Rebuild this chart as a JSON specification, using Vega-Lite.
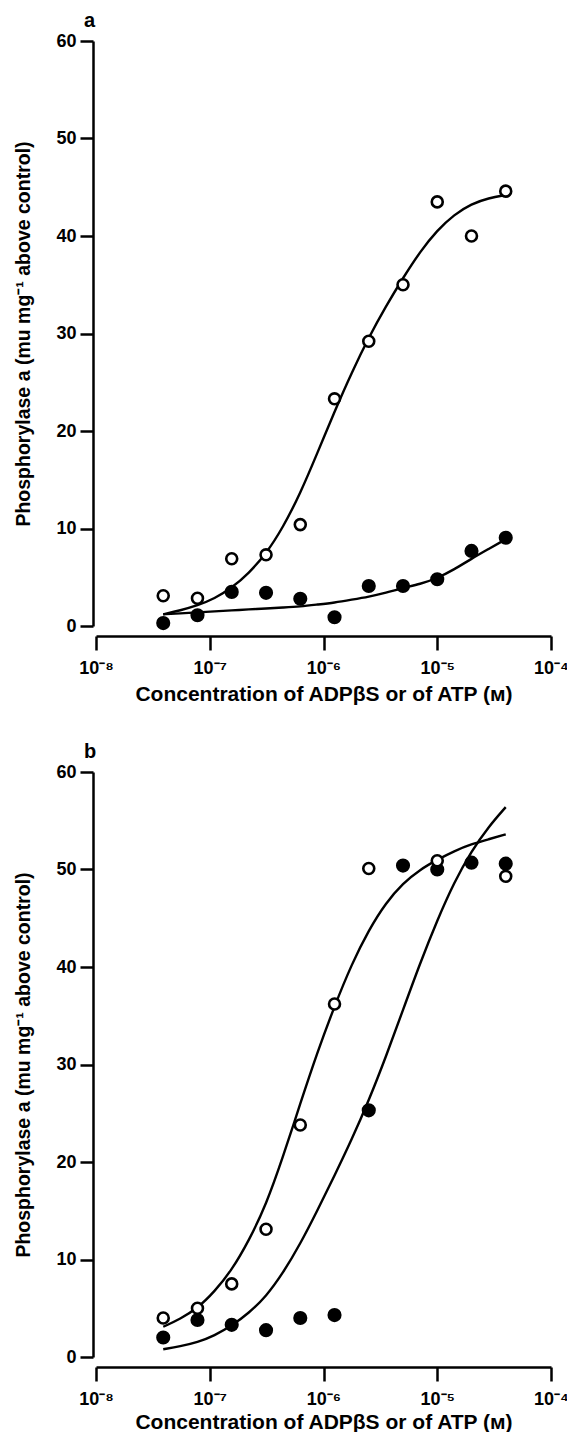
{
  "$schema": "https://vega.github.io/schema/vega-lite/v6.json",
  "background": "white",
  "padding": {"left": 13, "top": 11, "right": 0, "bottom": 0},
  "spacing": 38,
  "config": {
    "view": {"stroke": null},
    "font": "Liberation Sans",
    "axis": {
      "grid": false,
      "domainColor": "black",
      "domainWidth": 2.5,
      "tickColor": "black",
      "tickWidth": 2.5,
      "labelColor": "black",
      "titleColor": "black",
      "labelFont": "Liberation Sans",
      "titleFont": "Liberation Sans",
      "labelFontSize": 18,
      "labelFontWeight": "bold",
      "titleFontSize": 20,
      "titleFontWeight": "bold"
    },
    "title": {"font": "Liberation Sans", "fontSize": 20, "fontWeight": "bold", "color": "black", "anchor": "start", "frame": "group"}
  },
  "datasets": {
    "points": [
      {"panel": "a", "type": "open", "conc": 3.9e-8, "val": 3.1},
      {"panel": "a", "type": "open", "conc": 7.8e-8, "val": 2.85},
      {"panel": "a", "type": "open", "conc": 1.56e-7, "val": 6.9},
      {"panel": "a", "type": "open", "conc": 3.125e-7, "val": 7.3},
      {"panel": "a", "type": "open", "conc": 6.25e-7, "val": 10.4},
      {"panel": "a", "type": "open", "conc": 1.25e-6, "val": 23.3},
      {"panel": "a", "type": "open", "conc": 2.5e-6, "val": 29.2},
      {"panel": "a", "type": "open", "conc": 5e-6, "val": 35.0},
      {"panel": "a", "type": "open", "conc": 1e-5, "val": 43.5},
      {"panel": "a", "type": "open", "conc": 2e-5, "val": 40.0},
      {"panel": "a", "type": "open", "conc": 4e-5, "val": 44.6},
      {"panel": "a", "type": "filled", "conc": 3.9e-8, "val": 0.3},
      {"panel": "a", "type": "filled", "conc": 7.8e-8, "val": 1.1},
      {"panel": "a", "type": "filled", "conc": 1.56e-7, "val": 3.5},
      {"panel": "a", "type": "filled", "conc": 3.125e-7, "val": 3.4},
      {"panel": "a", "type": "filled", "conc": 6.25e-7, "val": 2.8},
      {"panel": "a", "type": "filled", "conc": 1.25e-6, "val": 0.9},
      {"panel": "a", "type": "filled", "conc": 2.5e-6, "val": 4.1},
      {"panel": "a", "type": "filled", "conc": 5e-6, "val": 4.1},
      {"panel": "a", "type": "filled", "conc": 1e-5, "val": 4.8},
      {"panel": "a", "type": "filled", "conc": 2e-5, "val": 7.7},
      {"panel": "a", "type": "filled", "conc": 4e-5, "val": 9.05},
      {"panel": "b", "type": "open", "conc": 3.9e-8, "val": 4.0},
      {"panel": "b", "type": "open", "conc": 7.8e-8, "val": 5.0},
      {"panel": "b", "type": "open", "conc": 1.56e-7, "val": 7.5},
      {"panel": "b", "type": "open", "conc": 3.125e-7, "val": 13.1},
      {"panel": "b", "type": "open", "conc": 6.25e-7, "val": 23.8},
      {"panel": "b", "type": "open", "conc": 1.25e-6, "val": 36.2},
      {"panel": "b", "type": "open", "conc": 2.5e-6, "val": 50.1},
      {"panel": "b", "type": "open", "conc": 1e-5, "val": 50.9},
      {"panel": "b", "type": "open", "conc": 4e-5, "val": 49.3},
      {"panel": "b", "type": "filled", "conc": 3.9e-8, "val": 2.0},
      {"panel": "b", "type": "filled", "conc": 7.8e-8, "val": 3.8},
      {"panel": "b", "type": "filled", "conc": 1.56e-7, "val": 3.3},
      {"panel": "b", "type": "filled", "conc": 3.125e-7, "val": 2.75},
      {"panel": "b", "type": "filled", "conc": 6.25e-7, "val": 4.0},
      {"panel": "b", "type": "filled", "conc": 1.25e-6, "val": 4.3},
      {"panel": "b", "type": "filled", "conc": 2.5e-6, "val": 25.3},
      {"panel": "b", "type": "filled", "conc": 5e-6, "val": 50.4},
      {"panel": "b", "type": "filled", "conc": 1e-5, "val": 50.0},
      {"panel": "b", "type": "filled", "conc": 2e-5, "val": 50.7},
      {"panel": "b", "type": "filled", "conc": 4e-5, "val": 50.6}
    ],
    "curves": [
      {"panel": "a", "series": "open", "conc": 3.9e-8, "val": 1.2},
      {"panel": "a", "series": "open", "conc": 5.5e-8, "val": 1.6},
      {"panel": "a", "series": "open", "conc": 7.8e-8, "val": 2.1},
      {"panel": "a", "series": "open", "conc": 1.1e-7, "val": 2.8},
      {"panel": "a", "series": "open", "conc": 1.56e-7, "val": 3.9},
      {"panel": "a", "series": "open", "conc": 2.2e-7, "val": 5.4},
      {"panel": "a", "series": "open", "conc": 3.125e-7, "val": 7.4},
      {"panel": "a", "series": "open", "conc": 4.4e-7, "val": 10.1},
      {"panel": "a", "series": "open", "conc": 6.25e-7, "val": 13.6},
      {"panel": "a", "series": "open", "conc": 8.8e-7, "val": 17.7},
      {"panel": "a", "series": "open", "conc": 1.25e-6, "val": 22.0},
      {"panel": "a", "series": "open", "conc": 1.77e-6, "val": 26.0},
      {"panel": "a", "series": "open", "conc": 2.5e-6, "val": 29.6},
      {"panel": "a", "series": "open", "conc": 3.54e-6, "val": 32.8},
      {"panel": "a", "series": "open", "conc": 5e-6, "val": 35.7},
      {"panel": "a", "series": "open", "conc": 7.07e-6, "val": 38.4},
      {"panel": "a", "series": "open", "conc": 1e-5, "val": 40.6},
      {"panel": "a", "series": "open", "conc": 1.41e-5, "val": 42.2},
      {"panel": "a", "series": "open", "conc": 2e-5, "val": 43.3},
      {"panel": "a", "series": "open", "conc": 2.83e-5, "val": 43.9},
      {"panel": "a", "series": "open", "conc": 4e-5, "val": 44.2},
      {"panel": "a", "series": "filled", "conc": 3.9e-8, "val": 1.2},
      {"panel": "a", "series": "filled", "conc": 5.5e-8, "val": 1.3},
      {"panel": "a", "series": "filled", "conc": 7.8e-8, "val": 1.4},
      {"panel": "a", "series": "filled", "conc": 1.1e-7, "val": 1.5},
      {"panel": "a", "series": "filled", "conc": 1.56e-7, "val": 1.6},
      {"panel": "a", "series": "filled", "conc": 2.2e-7, "val": 1.7},
      {"panel": "a", "series": "filled", "conc": 3.125e-7, "val": 1.8},
      {"panel": "a", "series": "filled", "conc": 4.4e-7, "val": 1.9},
      {"panel": "a", "series": "filled", "conc": 6.25e-7, "val": 2.0},
      {"panel": "a", "series": "filled", "conc": 8.8e-7, "val": 2.2},
      {"panel": "a", "series": "filled", "conc": 1.25e-6, "val": 2.4},
      {"panel": "a", "series": "filled", "conc": 1.77e-6, "val": 2.7},
      {"panel": "a", "series": "filled", "conc": 2.5e-6, "val": 3.0},
      {"panel": "a", "series": "filled", "conc": 3.54e-6, "val": 3.4},
      {"panel": "a", "series": "filled", "conc": 5e-6, "val": 3.9},
      {"panel": "a", "series": "filled", "conc": 7.07e-6, "val": 4.3},
      {"panel": "a", "series": "filled", "conc": 1e-5, "val": 4.9},
      {"panel": "a", "series": "filled", "conc": 1.41e-5, "val": 5.8},
      {"panel": "a", "series": "filled", "conc": 2e-5, "val": 6.9},
      {"panel": "a", "series": "filled", "conc": 2.83e-5, "val": 7.9},
      {"panel": "a", "series": "filled", "conc": 4e-5, "val": 8.9},
      {"panel": "b", "series": "open", "conc": 3.9e-8, "val": 3.1},
      {"panel": "b", "series": "open", "conc": 5.5e-8, "val": 3.9},
      {"panel": "b", "series": "open", "conc": 7.8e-8, "val": 5.0},
      {"panel": "b", "series": "open", "conc": 1.1e-7, "val": 6.7},
      {"panel": "b", "series": "open", "conc": 1.56e-7, "val": 8.9},
      {"panel": "b", "series": "open", "conc": 2.2e-7, "val": 11.9},
      {"panel": "b", "series": "open", "conc": 3.125e-7, "val": 15.6},
      {"panel": "b", "series": "open", "conc": 4.4e-7, "val": 20.5},
      {"panel": "b", "series": "open", "conc": 6.25e-7, "val": 26.0},
      {"panel": "b", "series": "open", "conc": 8.8e-7, "val": 31.2},
      {"panel": "b", "series": "open", "conc": 1.25e-6, "val": 36.0},
      {"panel": "b", "series": "open", "conc": 1.77e-6, "val": 40.3},
      {"panel": "b", "series": "open", "conc": 2.5e-6, "val": 43.8},
      {"panel": "b", "series": "open", "conc": 3.54e-6, "val": 46.6},
      {"panel": "b", "series": "open", "conc": 5e-6, "val": 48.6},
      {"panel": "b", "series": "open", "conc": 7.07e-6, "val": 50.0},
      {"panel": "b", "series": "open", "conc": 1e-5, "val": 51.0},
      {"panel": "b", "series": "open", "conc": 1.41e-5, "val": 51.9},
      {"panel": "b", "series": "open", "conc": 2e-5, "val": 52.6},
      {"panel": "b", "series": "open", "conc": 2.83e-5, "val": 53.1},
      {"panel": "b", "series": "open", "conc": 4e-5, "val": 53.6},
      {"panel": "b", "series": "filled", "conc": 3.9e-8, "val": 0.8},
      {"panel": "b", "series": "filled", "conc": 5.5e-8, "val": 1.1},
      {"panel": "b", "series": "filled", "conc": 7.8e-8, "val": 1.5},
      {"panel": "b", "series": "filled", "conc": 1.1e-7, "val": 2.2},
      {"panel": "b", "series": "filled", "conc": 1.56e-7, "val": 3.2},
      {"panel": "b", "series": "filled", "conc": 2.2e-7, "val": 4.5},
      {"panel": "b", "series": "filled", "conc": 3.125e-7, "val": 6.2},
      {"panel": "b", "series": "filled", "conc": 4.4e-7, "val": 8.6},
      {"panel": "b", "series": "filled", "conc": 6.25e-7, "val": 11.6},
      {"panel": "b", "series": "filled", "conc": 8.8e-7, "val": 15.0},
      {"panel": "b", "series": "filled", "conc": 1.25e-6, "val": 18.6},
      {"panel": "b", "series": "filled", "conc": 1.77e-6, "val": 22.3},
      {"panel": "b", "series": "filled", "conc": 2.5e-6, "val": 26.3},
      {"panel": "b", "series": "filled", "conc": 3.54e-6, "val": 30.8},
      {"panel": "b", "series": "filled", "conc": 5e-6, "val": 35.6},
      {"panel": "b", "series": "filled", "conc": 7.07e-6, "val": 40.4},
      {"panel": "b", "series": "filled", "conc": 1e-5, "val": 44.8},
      {"panel": "b", "series": "filled", "conc": 1.41e-5, "val": 48.7},
      {"panel": "b", "series": "filled", "conc": 2e-5, "val": 51.9},
      {"panel": "b", "series": "filled", "conc": 2.83e-5, "val": 54.4},
      {"panel": "b", "series": "filled", "conc": 4e-5, "val": 56.4}
    ]
  },
  "vconcat": [
    {
      "title": {"text": "a", "dx": -12, "offset": 1},
      "width": 455,
      "height": 585,
      "encoding": {
        "x": {"field": "conc", "type": "quantitative",
          "scale": {"type": "log", "domain": [1e-8, 1e-4], "nice": false},
          "axis": {"title": "Concentration of ADPβS or of ATP (ᴍ)", "values": [1e-8, 1e-7, 1e-6, 1e-5, 1e-4],
            "labelExpr": "datum.value < 3e-8 ? '10⁻⁸' : datum.value < 3e-7 ? '10⁻⁷' : datum.value < 3e-6 ? '10⁻⁶' : datum.value < 3e-5 ? '10⁻⁵' : '10⁻⁴'",
            "offset": 10, "tickSize": 14, "labelPadding": 9, "titlePadding": 6, "titleFontSize": 21, "labelFlush": false, "labelOverlap": false}},
        "y": {"field": "val", "type": "quantitative",
          "scale": {"domain": [0, 60], "nice": false},
          "axis": {"title": "Phosphorylase a (mu mg⁻¹ above control)", "values": [0, 10, 20, 30, 40, 50, 60],
            "offset": 3, "tickSize": 13, "labelPadding": 4, "titlePadding": 22, "titleFontSize": 19.5}}
      },
      "layer": [
        {"data": {"name": "curves"}, "transform": [{"filter": "datum.panel == 'a'"}],
          "mark": {"type": "line", "interpolate": "basis", "color": "black", "strokeWidth": 2.4},
          "encoding": {"detail": {"field": "series"}}},
        {"data": {"name": "points"}, "transform": [{"filter": "datum.panel == 'a' && datum.type == 'filled'"}],
          "mark": {"type": "point", "shape": "circle", "filled": true, "color": "black", "size": 200, "opacity": 1, "strokeWidth": 0}},
        {"data": {"name": "points"}, "transform": [{"filter": "datum.panel == 'a' && datum.type == 'open'"}],
          "mark": {"type": "point", "shape": "circle", "filled": true, "fill": "white", "stroke": "black", "strokeWidth": 2.6, "size": 120, "opacity": 1}}
      ]
    },
    {
      "title": {"text": "b", "dx": -12, "offset": 1},
      "width": 455,
      "height": 585,
      "encoding": {
        "x": {"field": "conc", "type": "quantitative",
          "scale": {"type": "log", "domain": [1e-8, 1e-4], "nice": false},
          "axis": {"title": "Concentration of ADPβS or of ATP (ᴍ)", "values": [1e-8, 1e-7, 1e-6, 1e-5, 1e-4],
            "labelExpr": "datum.value < 3e-8 ? '10⁻⁸' : datum.value < 3e-7 ? '10⁻⁷' : datum.value < 3e-6 ? '10⁻⁶' : datum.value < 3e-5 ? '10⁻⁵' : '10⁻⁴'",
            "offset": 10, "tickSize": 14, "labelPadding": 9, "titlePadding": 3, "titleFontSize": 21, "labelFlush": false, "labelOverlap": false}},
        "y": {"field": "val", "type": "quantitative",
          "scale": {"domain": [0, 60], "nice": false},
          "axis": {"title": "Phosphorylase a (mu mg⁻¹ above control)", "values": [0, 10, 20, 30, 40, 50, 60],
            "offset": 3, "tickSize": 13, "labelPadding": 4, "titlePadding": 22, "titleFontSize": 19.5}}
      },
      "layer": [
        {"data": {"name": "curves"}, "transform": [{"filter": "datum.panel == 'b'"}],
          "mark": {"type": "line", "interpolate": "basis", "color": "black", "strokeWidth": 2.4},
          "encoding": {"detail": {"field": "series"}}},
        {"data": {"name": "points"}, "transform": [{"filter": "datum.panel == 'b' && datum.type == 'filled'"}],
          "mark": {"type": "point", "shape": "circle", "filled": true, "color": "black", "size": 200, "opacity": 1, "strokeWidth": 0}},
        {"data": {"name": "points"}, "transform": [{"filter": "datum.panel == 'b' && datum.type == 'open'"}],
          "mark": {"type": "point", "shape": "circle", "filled": true, "fill": "white", "stroke": "black", "strokeWidth": 2.6, "size": 120, "opacity": 1}}
      ]
    }
  ]
}
